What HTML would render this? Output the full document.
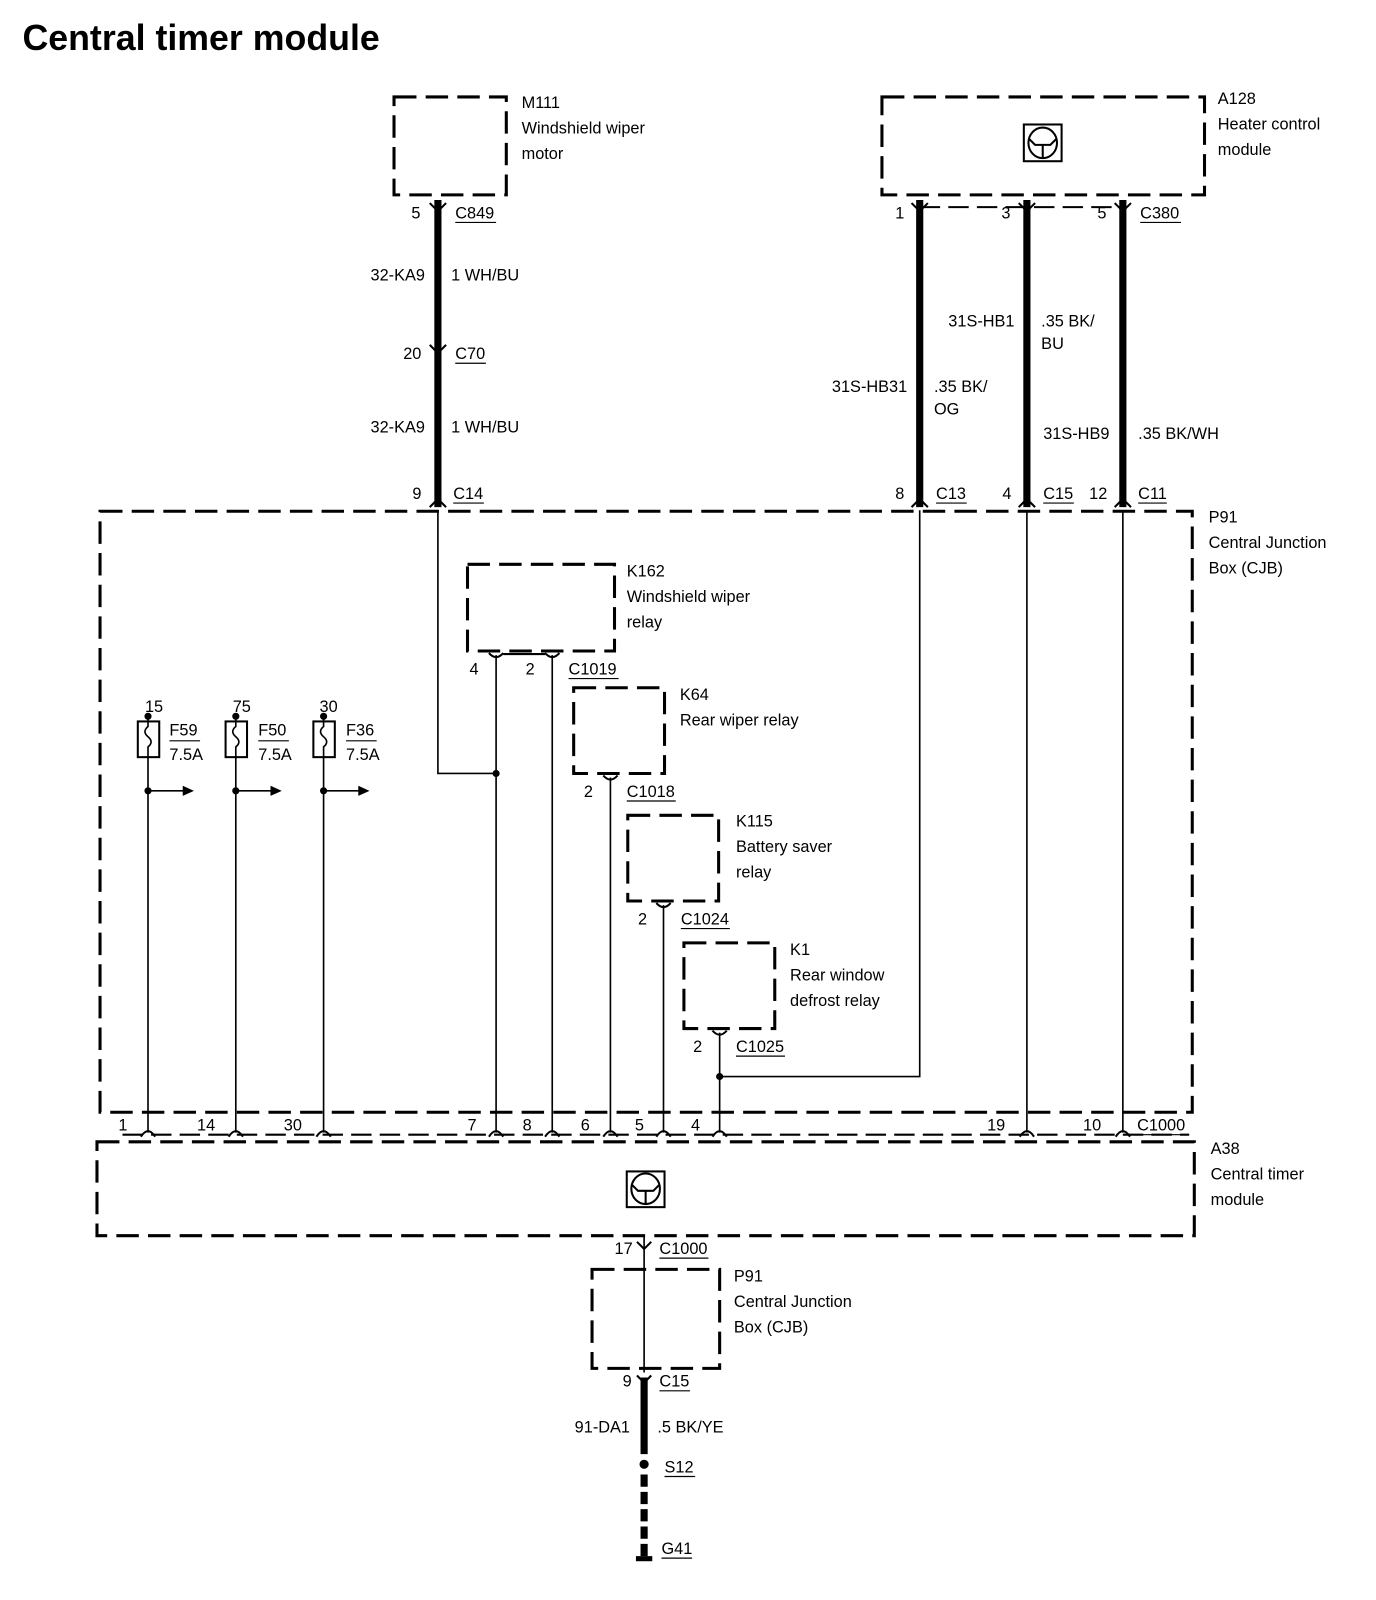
<!DOCTYPE html>
<html><head><style>
html,body{margin:0;padding:0;background:#fff;overflow:hidden;}
svg{display:block;}
text{font-family:"Liberation Sans",Arial,sans-serif;font-size:16px;fill:#000;}
.t{font-size:35px;font-weight:bold;}
.d{fill:none;stroke:#000;stroke-width:3;stroke-dasharray:22,9;}
.w{stroke:#000;stroke-width:1.6;fill:none;}
.W{stroke:#000;stroke-width:7;fill:none;}
.u{stroke:#000;stroke-width:1.2;}
.c{stroke:#000;stroke-width:2;fill:none;}
</style></head><body>
<svg width="1376" height="1600" viewBox="0 0 1348 1568" preserveAspectRatio="none">
<text x="22" y="49" class="t">Central timer module</text>

<!-- M111 -->
<rect x="386" y="95" width="110" height="96" class="d"/>
<text x="511" y="106">M111</text><text x="511" y="131">Windshield wiper</text><text x="511" y="156">motor</text>

<!-- A128 -->
<rect x="864" y="95" width="316" height="96" class="d"/>
<rect x="1003" y="122" width="37" height="36" class="c"/>
<ellipse cx="1021.5" cy="140" rx="14" ry="15" class="c"/>
<path d="M1008 136 L1014 142 L1029 142 L1035 136 M1021.5 142 L1021.5 154" class="c"/>
<text x="1193" y="102">A128</text><text x="1193" y="127">Heater control</text><text x="1193" y="152">module</text>

<!-- thick wires top -->
<line x1="429" y1="196" x2="429" y2="497" class="W"/>
<line x1="901" y1="196" x2="901" y2="497" class="W"/>
<line x1="1006" y1="196" x2="1006" y2="497" class="W"/>
<line x1="1100" y1="196" x2="1100" y2="497" class="W"/>
<path d="M421 199 L429 207 L437 199 M421 338 L429 346 L437 338 M893 199 L901 207 L909 199 M998 199 L1006 207 L1014 199 M1092 199 L1100 207 L1108 199" class="c"/>
<line x1="901" y1="203" x2="1100" y2="203" class="c" stroke-dasharray="20,8"/>
<path d="M421 497 L429 489 L437 497 M893 497 L901 489 L909 497 M998 497 L1006 489 L1014 497 M1092 497 L1100 489 L1108 497" class="c"/>

<text x="403" y="214">5</text><text x="446" y="214">C849</text><line x1="446" y1="218" x2="486" y2="218" class="u"/>
<text x="363" y="275">32-KA9</text><text x="442" y="275">1 WH/BU</text>
<text x="395" y="352">20</text><text x="446" y="352">C70</text><line x1="446" y1="356" x2="476" y2="356" class="u"/>
<text x="363" y="424">32-KA9</text><text x="442" y="424">1 WH/BU</text>
<text x="404" y="489">9</text><text x="444" y="489">C14</text><line x1="444" y1="493" x2="474" y2="493" class="u"/>

<text x="877" y="214">1</text><text x="981" y="214">3</text><text x="1075" y="214">5</text>
<text x="1117" y="214">C380</text><line x1="1117" y1="218" x2="1157" y2="218" class="u"/>
<text x="929" y="320">31S-HB1</text><text x="1020" y="320">.35 BK/</text><text x="1020" y="342">BU</text>
<text x="815" y="384">31S-HB31</text><text x="915" y="384">.35 BK/</text><text x="915" y="406">OG</text>
<text x="1022" y="430">31S-HB9</text><text x="1115" y="430">.35 BK/WH</text>
<text x="877" y="489">8</text><text x="917" y="489">C13</text><line x1="917" y1="493" x2="947" y2="493" class="u"/>
<text x="982" y="489">4</text><text x="1022" y="489">C15</text><line x1="1022" y1="493" x2="1052" y2="493" class="u"/>
<text x="1067" y="489">12</text><text x="1115" y="489">C11</text><line x1="1115" y1="493" x2="1143" y2="493" class="u"/>

<!-- P91 big box -->
<rect x="98" y="501" width="1070" height="589" class="d"/>
<text x="1184" y="512">P91</text><text x="1184" y="537">Central Junction</text><text x="1184" y="562">Box (CJB)</text>

<!-- thin wires -->
<path d="M429 500 L429 758 L486 758" class="w"/>
<circle cx="486" cy="758" r="3.5"/>
<line x1="486" y1="642" x2="486" y2="1110" class="w"/>
<line x1="541" y1="642" x2="541" y2="1110" class="w"/>
<line x1="598" y1="762" x2="598" y2="1110" class="w"/>
<line x1="650" y1="887" x2="650" y2="1110" class="w"/>
<line x1="705" y1="1012" x2="705" y2="1110" class="w"/>
<path d="M705 1055 L901 1055 L901 500" class="w"/>
<circle cx="705" cy="1055" r="3.5"/>
<line x1="1006" y1="500" x2="1006" y2="1110" class="w"/>
<line x1="1100" y1="500" x2="1100" y2="1110" class="w"/>

<!-- K162 -->
<rect x="458" y="553" width="144" height="85" class="d"/>
<path d="M479 640 Q486 648 493 640 M534 640 Q541 648 548 640" class="c"/>
<line x1="493" y1="641" x2="534" y2="641" class="c"/>
<text x="614" y="565">K162</text><text x="614" y="590">Windshield wiper</text><text x="614" y="615">relay</text>
<text x="460" y="661">4</text><text x="515" y="661">2</text>
<text x="557" y="661">C1019</text><line x1="557" y1="665" x2="606" y2="665" class="u"/>

<!-- K64 -->
<rect x="562" y="674" width="89" height="84" class="d"/>
<path d="M591 760 Q598 768 605 760" class="c"/>
<text x="666" y="686">K64</text><text x="666" y="711">Rear wiper relay</text>
<text x="572" y="781">2</text><text x="614" y="781">C1018</text><line x1="614" y1="785" x2="662" y2="785" class="u"/>

<!-- K115 -->
<rect x="615" y="799" width="89" height="84" class="d"/>
<path d="M643 885 Q650 893 657 885" class="c"/>
<text x="721" y="810">K115</text><text x="721" y="835">Battery saver</text><text x="721" y="860">relay</text>
<text x="625" y="906">2</text><text x="667" y="906">C1024</text><line x1="667" y1="910" x2="715" y2="910" class="u"/>

<!-- K1 -->
<rect x="670" y="924" width="89" height="84" class="d"/>
<path d="M698 1010 Q705 1018 712 1010" class="c"/>
<text x="774" y="936">K1</text><text x="774" y="961">Rear window</text><text x="774" y="986">defrost relay</text>
<text x="679" y="1031">2</text><text x="721" y="1031">C1025</text><line x1="721" y1="1035" x2="769" y2="1035" class="u"/>

<!-- fuses -->
<g>
<circle cx="145" cy="702" r="3.5"/><rect x="135" y="707" width="21" height="35" class="c"/>
<path d="M145 702 L145 712 Q139 717 145 722 Q151 727 145 732 L145 1110" class="w"/>
<circle cx="145" cy="775" r="3.5"/><path d="M145 775 L180 775" class="w"/><path d="M179 770 L190 775 L179 780Z"/>
<text x="142" y="698">15</text><text x="166" y="721">F59</text><line x1="166" y1="726" x2="196" y2="726" class="u"/><text x="166" y="745">7.5A</text>
</g>
<g>
<circle cx="231" cy="702" r="3.5"/><rect x="221" y="707" width="21" height="35" class="c"/>
<path d="M231 702 L231 712 Q225 717 231 722 Q237 727 231 732 L231 1110" class="w"/>
<circle cx="231" cy="775" r="3.5"/><path d="M231 775 L266 775" class="w"/><path d="M265 770 L276 775 L265 780Z"/>
<text x="228" y="698">75</text><text x="253" y="721">F50</text><line x1="253" y1="726" x2="283" y2="726" class="u"/><text x="253" y="745">7.5A</text>
</g>
<g>
<circle cx="317" cy="702" r="3.5"/><rect x="307" y="707" width="21" height="35" class="c"/>
<path d="M317 702 L317 712 Q311 717 317 722 Q323 727 317 732 L317 1110" class="w"/>
<circle cx="317" cy="775" r="3.5"/><path d="M317 775 L352 775" class="w"/><path d="M351 770 L362 775 L351 780Z"/>
<text x="313" y="698">30</text><text x="339" y="721">F36</text><line x1="339" y1="726" x2="369" y2="726" class="u"/><text x="339" y="745">7.5A</text>
</g>

<!-- bottom connector row -->
<line x1="120" y1="1112" x2="1165" y2="1112" class="c" stroke-dasharray="20,8"/>
<path d="M138 1114 Q145 1103 152 1114 M224 1114 Q231 1103 238 1114 M310 1114 Q317 1103 324 1114 M479 1114 Q486 1103 493 1114 M534 1114 Q541 1103 548 1114 M591 1114 Q598 1103 605 1114 M643 1114 Q650 1103 657 1114 M698 1114 Q705 1103 712 1114 M999 1114 Q1006 1103 1013 1114 M1093 1114 Q1100 1103 1107 1114" class="c"/>
<text x="116" y="1108">1</text><text x="193" y="1108">14</text><text x="278" y="1108">30</text>
<text x="458" y="1108">7</text><text x="512" y="1108">8</text><text x="569" y="1108">6</text><text x="622" y="1108">5</text><text x="677" y="1108">4</text>
<text x="967" y="1108">19</text><text x="1061" y="1108">10</text>
<text x="1114" y="1108">C1000</text><line x1="1114" y1="1112" x2="1162" y2="1112" class="u"/>

<!-- A38 -->
<rect x="95" y="1119" width="1075" height="92" class="d"/>
<rect x="614" y="1148" width="37" height="35" class="c"/>
<ellipse cx="632.5" cy="1165" rx="14" ry="15" class="c"/>
<path d="M619 1161 L625 1167 L640 1167 L646 1161 M632.5 1167 L632.5 1179" class="c"/>
<text x="1186" y="1131">A38</text><text x="1186" y="1156">Central timer</text><text x="1186" y="1181">module</text>

<!-- lower -->
<line x1="631" y1="1211" x2="631" y2="1345" class="w"/>
<path d="M624 1217 L631 1224 L638 1217" class="c"/>
<text x="602" y="1229">17</text><text x="646" y="1229">C1000</text><line x1="646" y1="1233" x2="694" y2="1233" class="u"/>
<rect x="580" y="1244" width="125" height="97" class="d"/>
<text x="719" y="1256">P91</text><text x="719" y="1281">Central Junction</text><text x="719" y="1306">Box (CJB)</text>
<path d="M624 1348 L631 1355 L638 1348" class="c"/>
<line x1="631" y1="1350" x2="631" y2="1425" class="W"/>
<text x="610" y="1359">9</text><text x="646" y="1359">C15</text><line x1="646" y1="1363" x2="676" y2="1363" class="u"/>
<text x="563" y="1404">91-DA1</text><text x="644" y="1404">.5 BK/YE</text>
<circle cx="631" cy="1435" r="4.5"/>
<text x="651" y="1443">S12</text><line x1="651" y1="1447" x2="681" y2="1447" class="u"/>
<line x1="631" y1="1445" x2="631" y2="1525" class="W" stroke-dasharray="12,5"/>
<rect x="623" y="1525" width="16" height="5"/>
<text x="648" y="1523">G41</text><line x1="648" y1="1527" x2="678" y2="1527" class="u"/>
</svg>
</body></html>
